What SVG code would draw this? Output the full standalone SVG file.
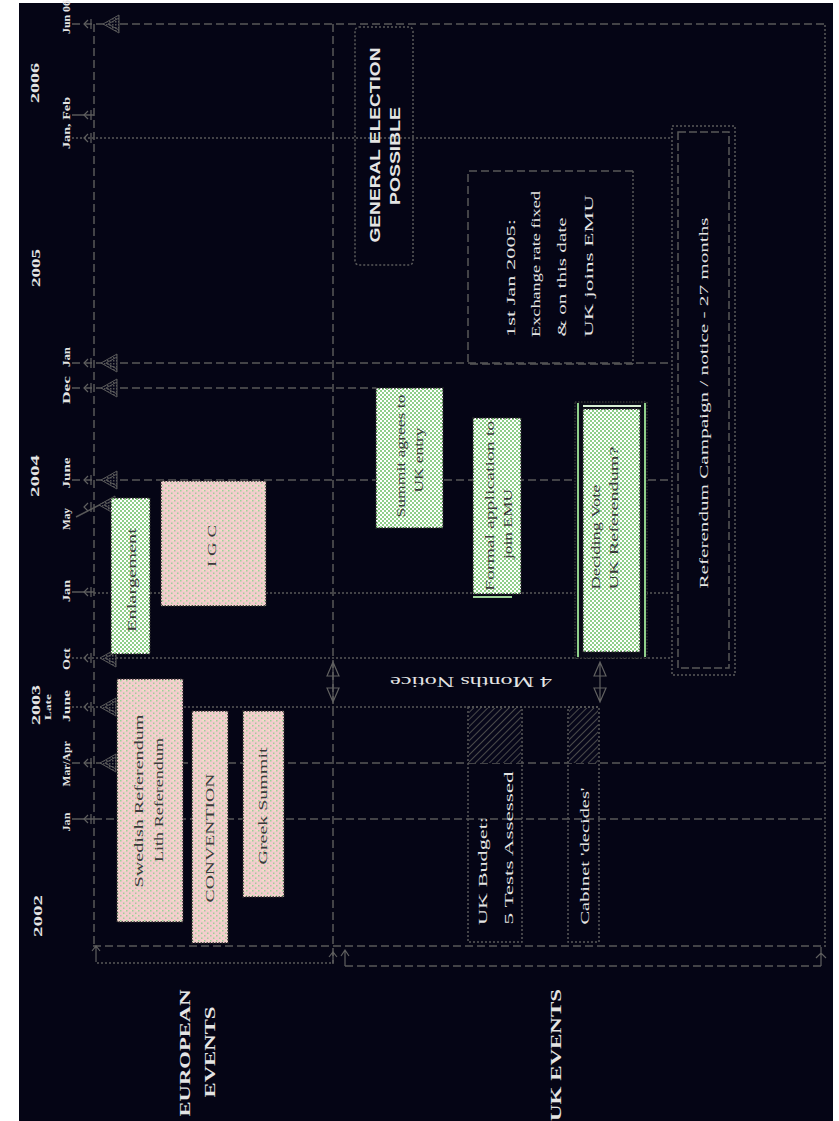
<svg xmlns="http://www.w3.org/2000/svg" xmlns:xlink="http://www.w3.org/1999/xlink" width="839" height="1121" viewBox="0 0 839 1121">
<style>
.dash{stroke:#585858;stroke-width:1.5;stroke-dasharray:8 4;fill:none}
.dot{stroke:#585858;stroke-width:1.5;stroke-dasharray:2 2;fill:none}
.sol{stroke:#585858;stroke-width:1.5;fill:none}
.lbl{font-family:"Liberation Serif",serif;fill:#e4e4e4;font-weight:bold;dominant-baseline:central;text-anchor:middle}
.bx{font-family:"Liberation Serif",serif;fill:#3a3a3a;dominant-baseline:central;text-anchor:middle;font-size:13px}
.bxs{font-family:"Liberation Serif",serif;fill:#e4e4e4;dominant-baseline:central;text-anchor:middle;font-size:13px}
.gbox{fill:url(#greenPat);stroke:#2a2a2a;stroke-width:1.5;stroke-dasharray:1.5 1.5}
.pbox{fill:url(#pinkPat);stroke:#2a2a2a;stroke-width:1.5;stroke-dasharray:1.5 1.5}
.frame{fill:none;stroke:#5a5a5a;stroke-width:1.5;stroke-dasharray:2 2}
.arr{fill:url(#xhatch);stroke:#5a5a5a;stroke-width:1}
.tick{fill:none;stroke:#606060;stroke-width:1.2}
</style>
<defs>
<pattern id="greenPat" width="4" height="4" patternUnits="userSpaceOnUse">
<rect width="4" height="4" fill="#8fce89"/><rect width="2" height="2" fill="#fff"/><rect x="2" y="2" width="2" height="2" fill="#fff"/>
</pattern>
<pattern id="pinkPat" width="6" height="5" patternUnits="userSpaceOnUse">
<rect width="6" height="5" fill="#f3cdcd"/><rect x="0" y="0" width="1.5" height="1.5" fill="#9fd09a"/><rect x="3" y="2.5" width="1.5" height="1.5" fill="#9fd09a"/><rect x="4.5" y="0" width="1" height="1" fill="#f4f2c4"/>
</pattern>
<pattern id="hatch" width="5" height="5" patternUnits="userSpaceOnUse" patternTransform="rotate(45)">
<rect width="5" height="5" fill="#07071a"/><line x1="0" y1="0" x2="0" y2="5" stroke="#4a4a4a" stroke-width="2"/>
</pattern>
<pattern id="xhatch" width="3" height="3" patternUnits="userSpaceOnUse">
<rect width="3" height="3" fill="#07071a"/><rect width="1.5" height="1.5" fill="#555"/>
</pattern>
<path id="bigArrow" class="arr" d="M0,0 L16,-9 L16,9 Z M5,0 L16,-6 M5,0 L16,6"/>
<path id="smallTick" class="tick" d="M4,-4 L0,0 L4,4 M7,-5 L7,5"/>
</defs>
<rect width="839" height="1121" fill="#ffffff"/>
<rect x="19" y="3" width="814" height="1118" fill="#050515"/>

<g id="connectors">
<line class="dash" x1="94" y1="24" x2="94" y2="946"/>
<line class="dash" x1="333" y1="24" x2="333" y2="964"/>
<line class="dot" x1="825" y1="25" x2="825" y2="947"/>
<line class="dash" x1="72" y1="24" x2="825" y2="24"/>
<line class="sol" x1="72" y1="115" x2="94" y2="115"/>
<line class="dot" x1="72" y1="138" x2="672" y2="138"/>
<line class="dash" x1="72" y1="363" x2="672" y2="363"/>
<line class="dash" x1="72" y1="388" x2="376" y2="388"/>
<line class="dash" x1="72" y1="480" x2="672" y2="480"/>
<line class="sol" x1="76" y1="517" x2="111" y2="499"/>
<line class="sol" x1="72" y1="592" x2="94" y2="592"/>
<line class="dot" x1="94" y1="593" x2="672" y2="593"/>
<line class="dot" x1="72" y1="658" x2="672" y2="658"/>
<line class="dot" x1="72" y1="707" x2="600" y2="707"/>
<line class="dash" x1="72" y1="763" x2="825" y2="763"/>
<line class="sol" x1="72" y1="819" x2="94" y2="819"/>
<line class="dash" x1="94" y1="819" x2="825" y2="819"/>
<line class="dash" x1="93" y1="946" x2="822" y2="946"/>
<line class="dot" x1="97" y1="963" x2="333" y2="963"/>
<line class="dash" x1="345" y1="966" x2="822" y2="966"/>
<path class="tick" d="M96,946 V962 M92,951 L96,946 L100,951"/>
<path class="tick" d="M333,952 V963 M329,957 L333,952 L337,957"/>
<path class="tick" d="M345,950 V966 M341,956 L345,950 L349,956"/>
<path class="tick" d="M821,947 V966 M816,958 L821,953 L826,958"/>
<use href="#smallTick" x="84" y="24"/>
<use href="#smallTick" x="84" y="115"/>
<use href="#smallTick" x="84" y="138"/>
<use href="#smallTick" x="84" y="363"/>
<use href="#smallTick" x="84" y="388"/>
<use href="#smallTick" x="84" y="480"/>
<use href="#smallTick" x="84" y="507"/>
<use href="#smallTick" x="84" y="592"/>
<use href="#smallTick" x="84" y="658"/>
<use href="#smallTick" x="84" y="707"/>
<use href="#smallTick" x="84" y="763"/>
<use href="#smallTick" x="84" y="819"/>
<use href="#bigArrow" x="103" y="24"/>
<use href="#bigArrow" x="101" y="363"/>
<use href="#bigArrow" x="101" y="388"/>
<use href="#bigArrow" x="101" y="480"/>
<use href="#bigArrow" x="99" y="505"/>
<use href="#bigArrow" x="100" y="658"/>
<use href="#bigArrow" x="100" y="707"/>
<use href="#bigArrow" x="100" y="763"/>
<path class="tick" d="M333,662 V702 M327,676 L333,662 L339,676 Z M327,688 L333,702 L339,688 Z"/>
<path class="tick" d="M600,662 V702 M594,676 L600,662 L606,676 Z M594,688 L600,702 L606,688 Z"/>
</g>

<g id="axis-labels">
<text class="lbl" font-size="13" transform="translate(34,83) rotate(-90)" textLength="40" lengthAdjust="spacingAndGlyphs">2006</text>
<text class="lbl" font-size="13" transform="translate(35,268) rotate(-90)" textLength="38" lengthAdjust="spacingAndGlyphs">2005</text>
<text class="lbl" font-size="13" transform="translate(34,476) rotate(-90)" textLength="42" lengthAdjust="spacingAndGlyphs">2004</text>
<text class="lbl" font-size="13" transform="translate(35,705) rotate(-90)" textLength="40" lengthAdjust="spacingAndGlyphs">2003</text>
<text class="lbl" font-size="8" transform="translate(48,707) rotate(-90)" textLength="26" lengthAdjust="spacingAndGlyphs">Late</text>
<text class="lbl" font-size="13" transform="translate(37,916) rotate(-90)" textLength="42" lengthAdjust="spacingAndGlyphs">2002</text>
<text class="lbl" font-size="11" transform="translate(66,17) rotate(-90)" textLength="34" lengthAdjust="spacingAndGlyphs">Jun 06</text>
<text class="lbl" font-size="11" transform="translate(66,123) rotate(-90)" textLength="52" lengthAdjust="spacingAndGlyphs">Jan, Feb</text>
<text class="lbl" font-size="11" transform="translate(66,357) rotate(-90)" textLength="20" lengthAdjust="spacingAndGlyphs">Jan</text>
<text class="lbl" font-size="11" transform="translate(66,390) rotate(-90)" textLength="28" lengthAdjust="spacingAndGlyphs">Dec</text>
<text class="lbl" font-size="11" transform="translate(66,473) rotate(-90)" textLength="31" lengthAdjust="spacingAndGlyphs">June</text>
<text class="lbl" font-size="11" transform="translate(66,519) rotate(-90)" textLength="22" lengthAdjust="spacingAndGlyphs">May</text>
<text class="lbl" font-size="11" transform="translate(66,591) rotate(-90)" textLength="22" lengthAdjust="spacingAndGlyphs">Jan</text>
<text class="lbl" font-size="11" transform="translate(66,659) rotate(-90)" textLength="22" lengthAdjust="spacingAndGlyphs">Oct</text>
<text class="lbl" font-size="11" transform="translate(66,706) rotate(-90)" textLength="32" lengthAdjust="spacingAndGlyphs">June</text>
<text class="lbl" font-size="11" transform="translate(66,764) rotate(-90)" textLength="45" lengthAdjust="spacingAndGlyphs">Mar/Apr</text>
<text class="lbl" font-size="11" transform="translate(66,822) rotate(-90)" textLength="19" lengthAdjust="spacingAndGlyphs">Jan</text>
<text class="lbl" font-size="14" transform="translate(185,1053) rotate(-90)" textLength="127" lengthAdjust="spacingAndGlyphs">EUROPEAN</text>
<text class="lbl" font-size="14" transform="translate(210,1052) rotate(-90)" textLength="91" lengthAdjust="spacingAndGlyphs">EVENTS</text>
<text class="lbl" font-size="14" transform="translate(556,1055) rotate(-90)" textLength="132" lengthAdjust="spacingAndGlyphs">UK EVENTS</text>
<text class="lbl" font-size="14" style="font-weight:normal" transform="translate(471,681) rotate(180)" textLength="162" lengthAdjust="spacingAndGlyphs">4 Months Notice</text>
</g>

<g id="enlargement">
<rect class="gbox" x="111" y="498" width="39" height="156"/>
<text class="bx" transform="translate(131,580) rotate(-90)" textLength="104" lengthAdjust="spacingAndGlyphs">Enlargement</text>
</g>
<g id="igc">
<rect class="pbox" x="161" y="481" width="105" height="125"/>
<text class="bx" transform="translate(211,546) rotate(-90)" textLength="42" lengthAdjust="spacingAndGlyphs">I G C</text>
</g>
<g id="swedish-referendum">
<rect class="pbox" x="117" y="679" width="66" height="243"/>
<text class="bx" transform="translate(138,801) rotate(-90)" textLength="173" lengthAdjust="spacingAndGlyphs">Swedish Referendum</text>
<text class="bx" transform="translate(158,800) rotate(-90)" textLength="124" lengthAdjust="spacingAndGlyphs">Lith Referendum</text>
</g>
<g id="convention">
<rect class="pbox" x="192" y="711" width="36" height="232"/>
<text class="bx" transform="translate(209,838) rotate(-90)" textLength="129" lengthAdjust="spacingAndGlyphs">CONVENTION</text>
</g>
<g id="greek-summit">
<rect class="pbox" x="243" y="711" width="41" height="186"/>
<text class="bx" transform="translate(262,806) rotate(-90)" textLength="117" lengthAdjust="spacingAndGlyphs">Greek Summit</text>
</g>
<g id="general-election">
<rect class="frame" x="355" y="27" width="58" height="238" rx="4"/>
<text class="lbl" style="font-family:'Liberation Sans',sans-serif;font-size:15px" transform="translate(374,145) rotate(-90)" textLength="195" lengthAdjust="spacingAndGlyphs">GENERAL ELECTION</text>
<text class="lbl" style="font-family:'Liberation Sans',sans-serif;font-size:15px" transform="translate(394,156) rotate(-90)" textLength="98" lengthAdjust="spacingAndGlyphs">POSSIBLE</text>
</g>
<g id="emu-entry">
<path class="dash" d="M633,171 H468 V364 H633"/>
<line class="dot" x1="633" y1="171" x2="633" y2="364"/>
<text class="bxs" transform="translate(510,278) rotate(-90)" textLength="118" lengthAdjust="spacingAndGlyphs">1st Jan 2005:</text>
<text class="bxs" transform="translate(535,264) rotate(-90)" textLength="146" lengthAdjust="spacingAndGlyphs">Exchange rate fixed</text>
<text class="bxs" transform="translate(561,277) rotate(-90)" textLength="119" lengthAdjust="spacingAndGlyphs">&amp; on this date</text>
<text class="bxs" transform="translate(588,266) rotate(-90)" textLength="142" lengthAdjust="spacingAndGlyphs">UK joins EMU</text>
</g>
<g id="summit-agrees">
<rect class="gbox" x="376" y="388" width="67" height="140"/>
<text class="bx" transform="translate(400,456) rotate(-90)" textLength="123" lengthAdjust="spacingAndGlyphs">Summit agrees to</text>
<text class="bx" transform="translate(418,460) rotate(-90)" textLength="65" lengthAdjust="spacingAndGlyphs">UK entry</text>
</g>
<g id="formal-application">
<rect class="gbox" x="473" y="418" width="48" height="176"/>
<line x1="473" y1="597" x2="512" y2="597" stroke="#9fd49a" stroke-width="2"/>
<text class="bx" transform="translate(489,506) rotate(-90)" textLength="170" lengthAdjust="spacingAndGlyphs">Formal application to</text>
<text class="bx" transform="translate(507,524) rotate(-90)" textLength="70" lengthAdjust="spacingAndGlyphs">join EMU</text>
</g>
<g id="deciding-vote">
<rect x="575" y="402" width="72" height="256" fill="#0a0a18" stroke="#333" stroke-width="1.5" stroke-dasharray="1.5 1.5"/>
<line x1="578" y1="403" x2="578" y2="657" stroke="#8fcf8a" stroke-width="2"/>
<line x1="645" y1="403" x2="645" y2="657" stroke="#8fcf8a" stroke-width="2"/>
<line x1="583" y1="406" x2="641" y2="406" stroke="#d8eed4" stroke-width="2"/>
<rect class="gbox" x="583" y="409" width="57" height="243"/>
<text class="bx" transform="translate(595,537) rotate(-90)" textLength="105" lengthAdjust="spacingAndGlyphs">Deciding Vote</text>
<text class="bx" transform="translate(613,518) rotate(-90)" textLength="143" lengthAdjust="spacingAndGlyphs">UK Referendum?</text>
</g>
<g id="referendum-campaign">
<rect class="frame" x="672" y="126" width="63" height="549"/>
<rect class="dash" x="678" y="132" width="51" height="536" style="stroke-dasharray:8 3"/>
<text class="lbl" style="font-weight:normal;font-size:13px" transform="translate(703,403) rotate(-90)" textLength="371" lengthAdjust="spacingAndGlyphs">Referendum Campaign / notice - 27 months</text>
</g>
<g id="uk-budget">
<rect class="frame" x="468" y="707" width="54" height="235"/>
<rect x="469" y="708" width="52" height="55" fill="url(#hatch)"/>
<text class="bxs" transform="translate(482,871) rotate(-90)" textLength="108" lengthAdjust="spacingAndGlyphs">UK Budget:</text>
<text class="bxs" transform="translate(508,848) rotate(-90)" textLength="153" lengthAdjust="spacingAndGlyphs">5 Tests Assessed</text>
</g>
<g id="cabinet-decides">
<rect class="frame" x="568" y="707" width="31" height="235"/>
<rect x="569" y="708" width="29" height="55" fill="url(#hatch)"/>
<text class="bxs" transform="translate(584,856) rotate(-90)" textLength="137" lengthAdjust="spacingAndGlyphs">Cabinet 'decides'</text>
</g>
</svg>
